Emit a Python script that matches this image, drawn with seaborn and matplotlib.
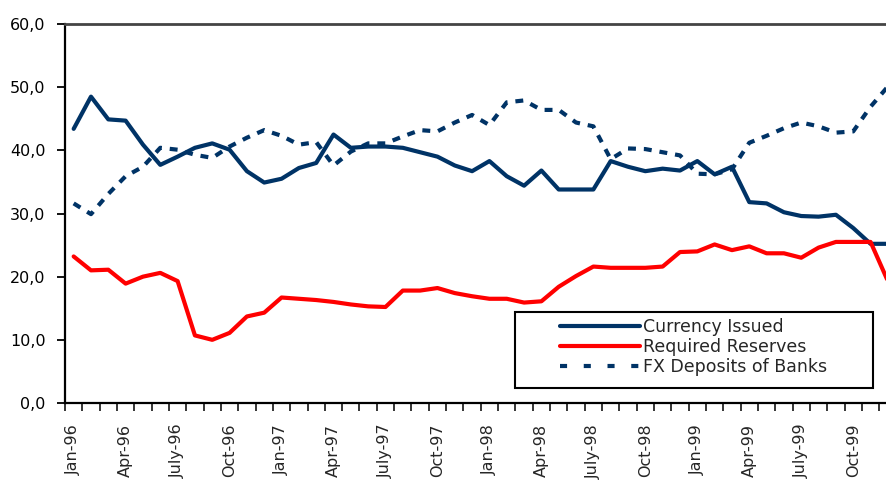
import pandas as pd
import matplotlib
matplotlib.use("Agg")
import matplotlib.pyplot as plt
import matplotlib.patches as mpatches
from matplotlib.lines import Line2D
from matplotlib.ticker import FuncFormatter, FixedLocator
import seaborn as sns

# Monthly data, Jan-96 .. Dec-99
month_idx = list(range(48))
currency_issued = [43.4, 48.5, 44.9, 44.7, 40.9, 37.7, 39.0, 40.4, 41.1, 40.1,
                   36.7, 34.9, 35.5, 37.2, 38.0, 42.5, 40.4, 40.6, 40.6, 40.4,
                   39.7, 39.0, 37.6, 36.7, 38.3, 35.9, 34.4, 36.8, 33.8, 33.8,
                   33.8, 38.3, 37.4, 36.7, 37.1, 36.8, 38.3, 36.2, 37.4, 31.8,
                   31.6, 30.2, 29.6, 29.5, 29.8, 27.7, 25.2, 25.2]
required_reserves = [23.2, 21.0, 21.1, 18.9, 20.0, 20.6, 19.3, 10.7, 10.0, 11.1,
                     13.7, 14.3, 16.7, 16.5, 16.3, 16.0, 15.6, 15.3, 15.2, 17.8,
                     17.8, 18.2, 17.4, 16.9, 16.5, 16.5, 15.9, 16.1, 18.4, 20.1,
                     21.6, 21.4, 21.4, 21.4, 21.6, 23.9, 24.0, 25.1, 24.2, 24.8,
                     23.7, 23.7, 23.0, 24.6, 25.5, 25.5, 25.5, 19.3]
fx_deposits = [31.6, 29.9, 33.1, 35.9, 37.4, 40.4, 40.1, 39.3, 38.8, 40.6,
               42.0, 43.2, 42.3, 40.9, 41.3, 37.6, 39.8, 41.1, 41.1, 42.2,
               43.2, 43.0, 44.4, 45.6, 44.0, 47.6, 47.9, 46.4, 46.4, 44.4,
               43.8, 38.6, 40.3, 40.2, 39.7, 39.2, 36.3, 36.2, 37.0, 41.2,
               42.3, 43.5, 44.4, 43.8, 42.8, 43.0, 46.9, 50.1]

series_names = ["Currency Issued", "Required Reserves", "FX Deposits of Banks"]
tick_pos = list(range(0, 48, 3))
tick_labels = ["Jan-96", "Apr-96", "July-96", "Oct-96",
               "Jan-97", "Apr-97", "July-97", "Oct-97",
               "Jan-98", "Apr-98", "July-98", "Oct-98",
               "Jan-99", "Apr-99", "July-99", "Oct-99"]

df = pd.concat([
    pd.DataFrame({"month": month_idx, "value": currency_issued, "series": series_names[0]}),
    pd.DataFrame({"month": month_idx, "value": required_reserves, "series": series_names[1]}),
    pd.DataFrame({"month": month_idx, "value": fx_deposits, "series": series_names[2]}),
])

sns.set_style("ticks")
plt.rcParams["font.family"] = ["DejaVu Sans"]

navy = "#003366"
red = "#ff0000"
palette = {series_names[0]: navy, series_names[1]: red, series_names[2]: navy}
dashes = {series_names[0]: "", series_names[1]: "", series_names[2]: (1.9, 1.9)}

fig = plt.figure(figsize=(8.87, 4.8), dpi=100)
ax = fig.add_axes([65 / 887, 1 - 403 / 480, (887 - 65) / 887, (403 - 24) / 480])

sns.lineplot(data=df, x="month", y="value", hue="series", style="series",
             hue_order=series_names, style_order=series_names,
             palette=palette, dashes=dashes, linewidth=3, legend=False, ax=ax)

ax.set_xlabel("")
ax.set_ylabel("")

# y axis
ax.set_yticks(range(0, 61, 10))
ax.yaxis.set_major_formatter(FuncFormatter(lambda v, p: f"{v:.1f}".replace(".", ",")))
ax.tick_params(axis="y", direction="out", length=6, width=1.3, pad=8,
               labelsize=11.5, colors="black")

# x axis: labels on categories, tick marks between categories
ax.set_xticks(tick_pos)
ax.set_xticklabels(tick_labels, rotation=90, fontsize=11.5)
ax.tick_params(axis="x", which="major", length=0, pad=15)
ax.xaxis.set_minor_locator(FixedLocator([i - 0.5 for i in range(49)]))
ax.tick_params(axis="x", which="minor", direction="out", length=6, width=1.3)

for side in ["left", "bottom"]:
    ax.spines[side].set_linewidth(1.6)
    ax.spines[side].set_color("black")
ax.spines["top"].set_visible(True)
ax.spines["top"].set_color("#444444")
ax.spines["top"].set_linewidth(2)
ax.spines["right"].set_visible(False)

# legend box
box = mpatches.Rectangle((515 / 887, 1 - 388 / 480), (873 - 515) / 887, (388 - 312) / 480,
                         transform=fig.transFigure, facecolor="white",
                         edgecolor="black", linewidth=1.5, zorder=3, clip_on=False)
ax.add_patch(box)
ax.set_xlim(-0.5, 46.95)
ax.set_ylim(0, 60)

handles = [Line2D([], [], color=navy, linewidth=3),
           Line2D([], [], color=red, linewidth=3),
           Line2D([], [], color=navy, linewidth=3, dashes=(1.7, 4.0))]
leg = ax.legend(handles, series_names, loc="upper left",
                bbox_to_anchor=(560 / 887, 1 - 318 / 480), bbox_transform=fig.transFigure,
                frameon=False, fontsize=12.5, handlelength=4.6, handletextpad=0.2,
                labelspacing=0.12, borderpad=0, borderaxespad=0)
leg.set_zorder(5)

fig.savefig("out.png", dpi=100)
